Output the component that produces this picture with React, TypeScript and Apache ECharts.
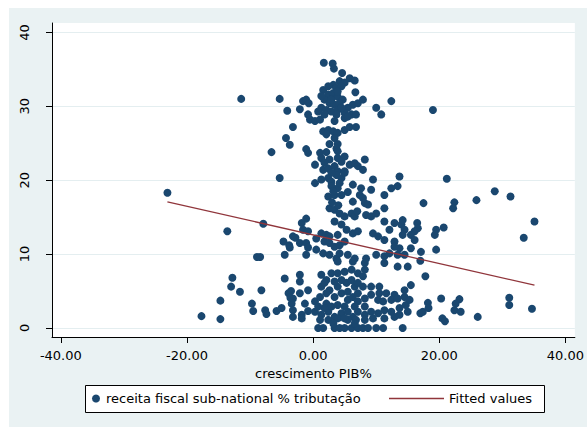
import React, { useEffect, useRef } from "react";
import * as echarts from "echarts";

const FONT = "DejaVu Sans";

const xTicks = [-40, -20, 0, 20, 40];
const yTicks = [0, 10, 20, 30, 40];
const xMin = -41.4;
const xMax = 41.5;
const yMin = -1.22;
const yMax = 41.27;

const scatterName = "receita fiscal sub-national % tributação";
const fitName = "Fitted values";
const xTitle = "crescimento PIB%";

// fitted values (endpoints of the regression line)
const fitX = [-23.1, 35.1];
const fitY = [17.07, 5.8];

// observations: [crescimento PIB %, receita fiscal %]
const leftOutliers: [number, number][] = [
  [-23.1, 18.3], [-11.4, 31.0], [-13.6, 13.1], [-7.9, 14.1], [-12.8, 6.8], [-13.0, 5.6],
  [-11.6, 4.9], [-14.7, 3.7], [-17.7, 1.6], [-14.7, 1.2], [-8.9, 9.6], [-8.4, 9.6],
  [-8.2, 5.1], [-9.7, 3.3], [-9.5, 2.3], [-4.7, 11.7],
];

const rightOutliers: [number, number][] = [
  [19.0, 29.5], [21.2, 20.2], [17.5, 16.9], [22.4, 17.0], [22.2, 16.2], [25.9, 17.3],
  [28.8, 18.5], [31.3, 17.8], [35.1, 14.4], [33.4, 12.2], [16.5, 14.2], [16.6, 13.5],
  [16.1, 13.1], [19.5, 13.3], [19.3, 12.6], [20.7, 13.6], [14.0, 14.0], [13.7, 10.8],
  [17.1, 10.3], [19.5, 10.6], [17.0, 9.1], [17.8, 7.0], [14.7, 3.1], [13.7, 1.8],
  [17.0, 2.0], [17.4, 2.2], [18.2, 3.4], [18.3, 2.7], [20.3, 4.0], [23.2, 3.9],
  [22.6, 3.3], [22.4, 2.4], [23.4, 2.2], [20.5, 1.3], [20.9, 0.9], [26.1, 1.5],
  [31.1, 4.1], [31.1, 3.1], [34.7, 2.6],
];

const topCluster: [number, number][] = [
  [1.7, 35.9], [3.1, 35.8], [3.3, 35.1], [4.6, 34.5], [5.8, 33.8], [6.6, 33.5],
  [4.2, 33.4], [5.0, 33.2], [3.2, 32.9], [3.7, 32.5], [4.5, 32.7], [1.6, 32.2],
  [6.7, 31.9], [2.4, 31.6], [3.2, 31.8], [3.9, 31.3], [4.7, 30.9], [1.8, 30.9],
  [2.6, 30.4], [3.4, 30.2], [5.5, 29.8], [6.3, 30.2], [7.1, 30.4], [7.9, 30.9],
  [1.3, 29.8], [2.1, 29.5], [2.9, 29.3], [3.9, 29.5], [5.0, 29.1], [6.1, 28.9],
  [6.8, 28.9], [0.8, 29.3], [-0.8, 28.9], [-0.5, 28.2], [0.3, 28.0], [1.1, 28.2],
  [3.4, 28.0], [5.0, 28.4], [5.5, 28.6], [-5.3, 31.0], [-4.1, 29.4], [-2.1, 29.6],
  [-1.6, 30.7], [-1.1, 30.9], [-0.7, 30.4], [-3.2, 27.2], [-4.3, 25.7], [-3.7, 24.8],
  [-1.1, 24.2], [1.6, 26.6], [2.4, 26.8], [3.2, 26.6], [3.9, 26.4], [5.0, 26.8],
  [5.8, 27.2], [6.8, 27.2], [2.1, 26.2], [3.4, 25.7], [2.6, 24.9], [3.9, 24.9],
  [3.7, 24.3], [10.0, 29.8], [10.8, 28.9], [12.4, 30.7], [2.4, 32.7], [3.9, 32.0],
  [2.9, 30.9], [4.2, 30.4], [3.7, 28.9], [1.8, 28.9], [4.5, 29.8], [1.3, 31.4],
];

const midCluster: [number, number][] = [
  [-6.6, 23.8], [-0.8, 23.7], [1.1, 23.7], [2.1, 23.8], [3.9, 23.9], [1.3, 23.0],
  [0.3, 22.1], [2.6, 22.8], [3.9, 23.0], [5.0, 23.2], [1.6, 21.4], [2.4, 21.6],
  [3.4, 21.9], [3.9, 21.2], [5.0, 21.2], [5.8, 22.1], [6.6, 22.3], [7.1, 21.9],
  [8.2, 22.8], [7.9, 21.4], [-5.3, 20.3], [0.3, 19.6], [1.3, 20.1], [2.4, 20.3],
  [2.9, 19.8], [3.7, 20.7], [4.5, 20.3], [5.0, 21.0], [9.5, 20.1], [13.7, 20.5],
  [13.4, 19.2], [12.4, 18.9], [11.3, 18.0], [9.2, 18.7], [7.6, 18.9], [6.3, 19.4],
  [2.4, 17.8], [3.4, 18.0], [4.5, 18.0], [3.9, 18.9], [2.9, 19.2], [3.2, 18.5],
  [7.4, 18.0], [7.9, 17.6], [8.2, 16.9], [8.7, 16.7], [6.3, 17.1], [11.3, 16.2],
  [2.6, 16.2], [3.4, 16.0], [4.2, 15.5], [5.0, 15.1], [6.1, 15.5], [6.6, 15.1],
  [8.4, 15.3], [9.2, 15.1], [10.0, 15.5], [-1.8, 14.2], [-1.1, 14.8], [-1.6, 13.3],
  [-0.8, 13.1], [3.4, 14.4], [4.5, 14.0], [5.3, 13.3], [6.3, 12.8], [7.1, 13.1],
  [1.3, 12.8], [2.1, 12.6], [2.6, 12.4], [0.5, 12.1], [3.9, 12.6], [11.3, 14.4],
  [12.9, 14.2], [14.2, 14.6], [14.5, 13.3], [15.5, 12.6], [16.1, 11.9], [14.2, 12.6],
  [9.5, 12.8], [10.3, 12.4], [12.1, 13.3], [11.3, 11.9], [12.9, 11.7], [-3.2, 12.4],
  [-2.8, 12.2], [-3.8, 11.2], [1.8, 22.4], [4.5, 22.5], [2.9, 21.0], [4.2, 19.6],
  [5.5, 18.4], [3.0, 17.0], [4.0, 16.6], [7.0, 15.8],
];

const bottomCluster: [number, number][] = [
  [-3.7, 10.9], [-2.1, 11.5], [-1.1, 11.5], [-0.8, 10.9], [0.5, 10.6], [1.8, 11.7],
  [2.6, 11.5], [3.4, 11.0], [4.2, 11.2], [5.0, 11.7], [1.6, 10.1], [2.6, 9.9],
  [3.7, 9.4], [4.2, 10.1], [5.5, 9.9], [6.6, 9.4], [6.3, 9.0], [3.9, 9.0],
  [8.2, 8.8], [8.4, 9.4], [10.0, 9.9], [11.3, 9.7], [12.1, 10.1], [12.9, 11.0],
  [13.4, 9.9], [14.5, 9.9], [15.5, 10.8], [11.3, 8.8], [13.4, 8.3], [15.0, 8.3],
  [-4.5, 9.9], [-1.1, 9.9], [-4.5, 6.7], [-2.1, 7.2], [-2.1, 6.3], [1.3, 7.2],
  [2.1, 6.5], [2.9, 7.4], [3.9, 7.4], [5.0, 7.6], [6.1, 7.9], [7.1, 7.4],
  [7.9, 7.0], [8.2, 7.9], [1.3, 5.6], [2.6, 5.1], [3.9, 5.6], [5.3, 6.1],
  [6.6, 5.6], [7.9, 5.6], [9.2, 5.6], [10.5, 5.6], [10.5, 4.7], [11.6, 4.7],
  [12.9, 4.5], [14.5, 5.1], [15.5, 5.8], [-3.9, 4.7], [-3.2, 4.0], [-2.1, 4.7],
  [-0.8, 5.1], [-3.4, 3.3], [-1.3, 3.3], [0.3, 3.6], [1.1, 4.2], [2.1, 3.3],
  [3.4, 4.2], [4.5, 4.7], [5.5, 3.8], [6.3, 4.2], [7.1, 3.6], [8.2, 4.0],
  [9.2, 4.5], [10.3, 3.8], [11.1, 3.6], [12.4, 3.8], [13.4, 4.0], [14.5, 4.2],
  [15.3, 3.8], [-7.6, 2.4], [-7.4, 1.9], [-5.8, 2.3], [-5.0, 2.7], [-3.2, 2.4],
  [-3.2, 1.5], [-1.8, 1.8], [-1.8, 1.3], [-0.8, 2.3], [0.3, 2.2], [1.3, 1.8],
  [2.4, 2.2], [3.4, 1.5], [4.5, 2.0], [5.5, 2.2], [6.3, 1.5], [7.1, 2.2],
  [8.2, 1.8], [9.2, 2.2], [10.3, 2.0], [11.3, 2.4], [12.4, 2.2], [13.7, 2.7],
  [15.0, 2.2], [1.1, 1.1], [2.4, 1.1], [3.9, 1.3], [5.5, 1.1], [6.8, 1.1],
  [8.2, 1.1], [9.5, 1.3], [11.3, 1.3], [12.9, 1.5], [0.8, 0.0], [1.6, 0.0],
  [3.4, 0.0], [4.2, 0.0], [5.0, 0.0], [6.1, 0.0], [7.1, 0.0], [7.9, 0.0],
  [8.7, 0.0], [10.0, 0.0], [11.1, 0.0], [14.2, 0.0], [1.8, 6.1], [3.4, 6.3],
  [4.5, 6.5], [6.1, 6.5], [7.1, 6.1], [2.1, 4.7], [5.5, 4.9], [7.1, 4.7],
  [2.9, 2.9], [3.9, 3.1], [5.0, 2.9], [6.6, 2.9], [8.2, 2.9], [1.8, 2.7],
  [0.8, 2.9], [5.0, 1.3], [3.2, 0.6], [6.6, 0.6], [-3.5, 5.0], [-3.6, 4.1],
];

export default function App() {
  const ref = useRef<HTMLDivElement>(null);

  useEffect(() => {
    if (!ref.current) return;
    const chart = echarts.init(ref.current, undefined, { renderer: "svg" });
    const points = [...leftOutliers, ...rightOutliers, ...topCluster, ...midCluster, ...bottomCluster];
    const fitData = fitX.map((x, i) => [x, fitY[i]]);
    const textBase = { fontFamily: FONT, color: "#000000", fontSize: 13 };

    chart.setOption({
      animation: false,
      backgroundColor: "#ffffff",
      textStyle: { fontFamily: FONT },
      graphic: [
        {
          type: "rect",
          silent: true,
          z: -10,
          shape: { x: 9, y: 8, width: 578, height: 419 },
          style: { fill: "#eaf2f3" },
        },
        {
          type: "rect",
          silent: true,
          z: 1,
          shape: { x: 85.5, y: 385.5, width: 459, height: 27 },
          style: { fill: "#ffffff", stroke: "#000000", lineWidth: 1 },
        },
      ],
      grid: {
        left: 52,
        top: 23,
        width: 525,
        height: 314,
        show: true,
        backgroundColor: "#ffffff",
        borderWidth: 0,
      },
      xAxis: {
        type: "value",
        min: xMin,
        max: xMax,
        name: xTitle,
        nameLocation: "middle",
        nameGap: 21,
        nameTextStyle: { ...textBase },
        axisLine: { show: true, onZero: false, lineStyle: { color: "#000000", width: 1 } },
        axisTick: { show: true, length: 6, customValues: xTicks, lineStyle: { color: "#000000" } },
        axisLabel: {
          ...textBase,
          customValues: xTicks,
          margin: 12,
          formatter: (v: number) => v.toFixed(2),
        },
        splitLine: { show: false },
      },
      yAxis: {
        type: "value",
        min: yMin,
        max: yMax,
        axisLine: { show: true, onZero: false, lineStyle: { color: "#000000", width: 1 } },
        axisTick: { show: true, length: 6, customValues: yTicks, lineStyle: { color: "#000000" } },
        axisLabel: { ...textBase, customValues: yTicks, rotate: 90, margin: 21 },
        splitLine: { show: true, lineStyle: { color: "#e4eef0", width: 1 } },
      },
      legend: [
        {
          data: [{ name: scatterName, icon: "circle" }],
          left: 92,
          top: 392,
          padding: 0,
          itemWidth: 10,
          itemHeight: 8,
          selectedMode: false,
          textStyle: { ...textBase },
          z: 5,
        },
        {
          data: [{ name: fitName, icon: "rect" }],
          left: 389,
          top: 392,
          padding: 0,
          itemWidth: 55,
          itemHeight: 1.4,
          selectedMode: false,
          itemStyle: { color: "#90353b", borderWidth: 0 },
          textStyle: { ...textBase },
          z: 5,
        },
      ],
      series: [
        {
          name: scatterName,
          type: "scatter",
          data: points,
          symbol: "circle",
          symbolSize: 8,
          itemStyle: { color: "#1a476f", opacity: 1 },
          z: 2,
        },
        {
          name: fitName,
          type: "line",
          data: fitData,
          symbol: "none",
          lineStyle: { color: "#90353b", width: 1.3 },
          itemStyle: { color: "#90353b" },
          z: 3,
        },
      ],
    });

    return () => chart.dispose();
  }, []);

  return (
    <div style={{ position: "fixed", left: 0, top: 0, width: 587, height: 427 }}>
      <div ref={ref} style={{ width: 587, height: 427 }} />
    </div>
  );
}
